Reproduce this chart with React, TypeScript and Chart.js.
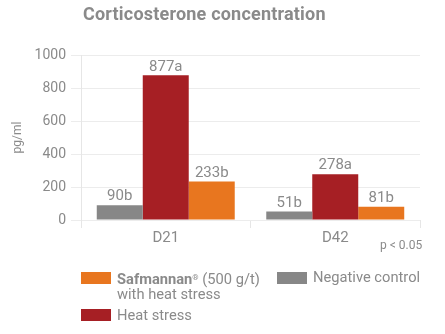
import React, { useEffect, useRef } from "react";
import { Chart, registerables } from "chart.js";

Chart.register(...registerables);

const categories = ["D21", "D42"];
const negativeControl = [90, 51];
const heatStress = [877, 278];
const safmannan = [233, 81];
const negativeLabels = ["90b", "51b"];
const heatLabels = ["877a", "278a"];
const safLabels = ["233b", "81b"];
const yTicks = [0, 200, 400, 600, 800, 1000];

const GRAY = "#878787";
const RED = "#a61f24";
const ORANGE = "#e8761f";
const TEXT = "#8a8a8a";
const FONT = "Roboto, 'DejaVu Sans', sans-serif";

const labelPlugin = {
  id: "barLabels",
  afterDatasetsDraw(chart: any) {
    const ctx = chart.ctx;
    ctx.save();
    ctx.font = `15px ${FONT}`;
    ctx.fillStyle = TEXT;
    ctx.textAlign = "center";
    ctx.textBaseline = "bottom";
    chart.data.datasets.forEach((ds: any, di: number) => {
      const meta = chart.getDatasetMeta(di);
      meta.data.forEach((bar: any, i: number) => {
        ctx.fillText(ds.valueLabels[i], bar.x, bar.y - 1);
      });
    });
    ctx.restore();
  },
};

export default function App() {
  const ref = useRef<HTMLCanvasElement>(null);
  useEffect(() => {
    document.body.style.margin = "0";
    const chart = new Chart(ref.current!, {
      type: "bar",
      data: {
        labels: categories,
        datasets: [
          { label: "Negative control", data: negativeControl, backgroundColor: GRAY, valueLabels: negativeLabels } as any,
          { label: "Heat stress", data: heatStress, backgroundColor: RED, valueLabels: heatLabels } as any,
          { label: "Safmannan", data: safmannan, backgroundColor: ORANGE, valueLabels: safLabels } as any,
        ],
      },
      options: {
        animation: false,
        responsive: false,
        maintainAspectRatio: false,
        layout: { padding: { top: 55, right: 25, bottom: 84, left: 11 } },
        datasets: { bar: { categoryPercentage: 0.814, barPercentage: 1 } },
        plugins: { legend: { display: false }, tooltip: { enabled: false }, title: { display: false } },
        scales: {
          x: {
            grid: { display: true, drawOnChartArea: false, drawTicks: true, tickLength: 8, color: "#e6e6e6", offset: true },
            border: { display: false },
            ticks: { color: TEXT, font: { family: FONT, size: 15 }, padding: 1 },
            afterFit: (s: any) => { s.height = 30; },
          },
          y: {
            min: 0,
            max: 1000,
            afterBuildTicks: (s: any) => { s.ticks = yTicks.map((v) => ({ value: v })); },
            grid: { color: "#ececec", tickLength: 10 },
            border: { display: true, color: "#e6e6e6" },
            ticks: { color: TEXT, font: { family: FONT, size: 14 }, padding: 5, callback: (v: any) => String(v) },
            title: { display: true, text: "pg/ml", color: TEXT, font: { family: FONT, size: 12 }, padding: { top: 0, bottom: 0 } },
            afterFit: (s: any) => { s.width = 70; },
          },
        },
      },
      plugins: [labelPlugin],
    });
    return () => chart.destroy();
  }, []);

  const box = (c: string) => ({
    position: "absolute" as const,
    width: 30,
    height: 12,
    background: c,
  });
  const txt = {
    position: "absolute" as const,
    fontFamily: FONT,
    fontSize: 14.7,
    color: TEXT,
    lineHeight: "15px",
    whiteSpace: "nowrap" as const,
  };

  return (
    <div style={{ position: "relative", width: 445, height: 334, overflow: "hidden", background: "#fff" }}>
      <canvas ref={ref} width={445} height={334} style={{ position: "absolute", left: 0, top: 0 }} />
      <div style={{ position: "absolute", left: 83, top: 3, fontFamily: FONT, fontWeight: 700, fontSize: 18, letterSpacing: "0.2px", color: TEXT, whiteSpace: "nowrap" }}>
        Corticosterone concentration
      </div>
      <div style={{ position: "absolute", left: 380, top: 238, fontFamily: FONT, fontSize: 12, color: TEXT }}>p &lt; 0.05</div>
      <div style={{ ...box(ORANGE), left: 81, top: 272 }} />
      <div style={{ ...txt, left: 117, top: 270 }}>
        <b>Safmannan</b><sup style={{ fontSize: 8, verticalAlign: "4px" }}>®</sup> (500 g/t)<br />with heat stress
      </div>
      <div style={{ ...box(GRAY), left: 277, top: 272 }} />
      <div style={{ ...txt, left: 313, top: 270 }}>Negative control</div>
      <div style={{ ...box(RED), left: 81, top: 309 }} />
      <div style={{ ...txt, left: 117, top: 308 }}>Heat stress</div>
    </div>
  );
}
